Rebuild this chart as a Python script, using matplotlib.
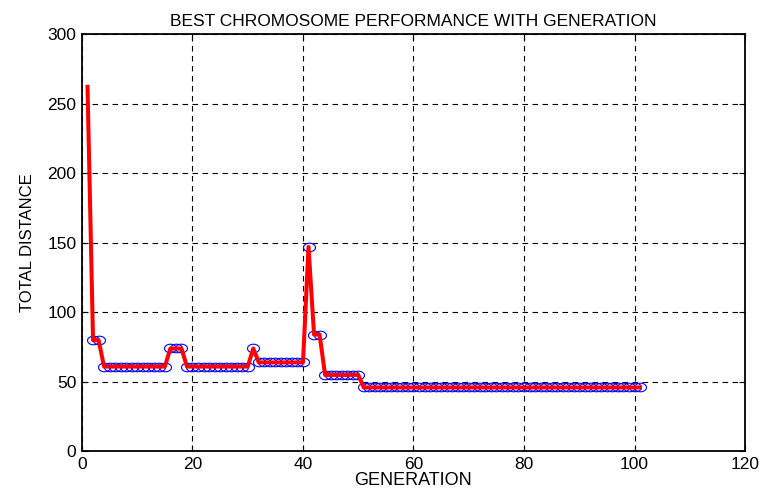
import matplotlib
matplotlib.use("Agg")
import matplotlib.pyplot as plt
import numpy as np
from matplotlib.path import Path

plt.rcParams['font.family'] = ['Liberation Sans', 'DejaVu Sans']

# best total distance found at each generation
generation = list(range(1, 102))
best_distance = [
    262, 80, 80,
    61, 61, 61, 61, 61, 61, 61, 61, 61, 61, 61, 61,
    74, 74, 74,
    61, 61, 61, 61, 61, 61, 61, 61, 61, 61, 61, 61,
    74,
    64, 64, 64, 64, 64, 64, 64, 64, 64,
    147,
    84, 84,
    55, 55, 55, 55, 55, 55, 55,
    46, 46, 46, 46, 46, 46, 46, 46, 46, 46,
    46, 46, 46, 46, 46, 46, 46, 46, 46, 46,
    46, 46, 46, 46, 46, 46, 46, 46, 46, 46,
    46, 46, 46, 46, 46, 46, 46, 46, 46, 46,
    46, 46, 46, 46, 46, 46, 46, 46, 46, 46,
    46,
]

xticks = [0, 20, 40, 60, 80, 100, 120]
yticks = [0, 50, 100, 150, 200, 250, 300]

# slightly flattened circle marker
t = np.linspace(0, 2 * np.pi, 40)
ellipse = Path(np.column_stack([np.cos(t), 0.72 * np.sin(t)]), closed=True)

fig = plt.figure(figsize=(7.62, 4.99), dpi=100)
ax = fig.add_axes([0.1076, 0.0952, 0.8701, 0.8368])

# circles from the second generation on
ax.plot(generation[1:], best_distance[1:], linestyle='none', marker=ellipse,
        markersize=8.6, markerfacecolor='none', markeredgecolor='blue',
        markeredgewidth=0.8, zorder=3)
ax.plot(generation, best_distance, color='red', linewidth=2.9, zorder=4)

ax.set_xlim(0, 120)
ax.set_ylim(0, 300)
ax.set_xticks(xticks)
ax.set_yticks(yticks)
ax.tick_params(direction='in', top=True, right=True, length=4, width=0.8,
               labelsize=12.5, pad=4)
ax.grid(True, color='black', linestyle=(0, (5, 4)), linewidth=0.8)
for s in ax.spines.values():
    s.set_linewidth(1.3)

ax.set_title('BEST CHROMOSOME PERFORMANCE WITH GENERATION', fontsize=12.5, pad=6)
ax.set_xlabel('GENERATION', fontsize=13, labelpad=0)
ax.set_ylabel('TOTAL DISTANCE', fontsize=12, labelpad=9)

fig.savefig('out.png', dpi=100)
